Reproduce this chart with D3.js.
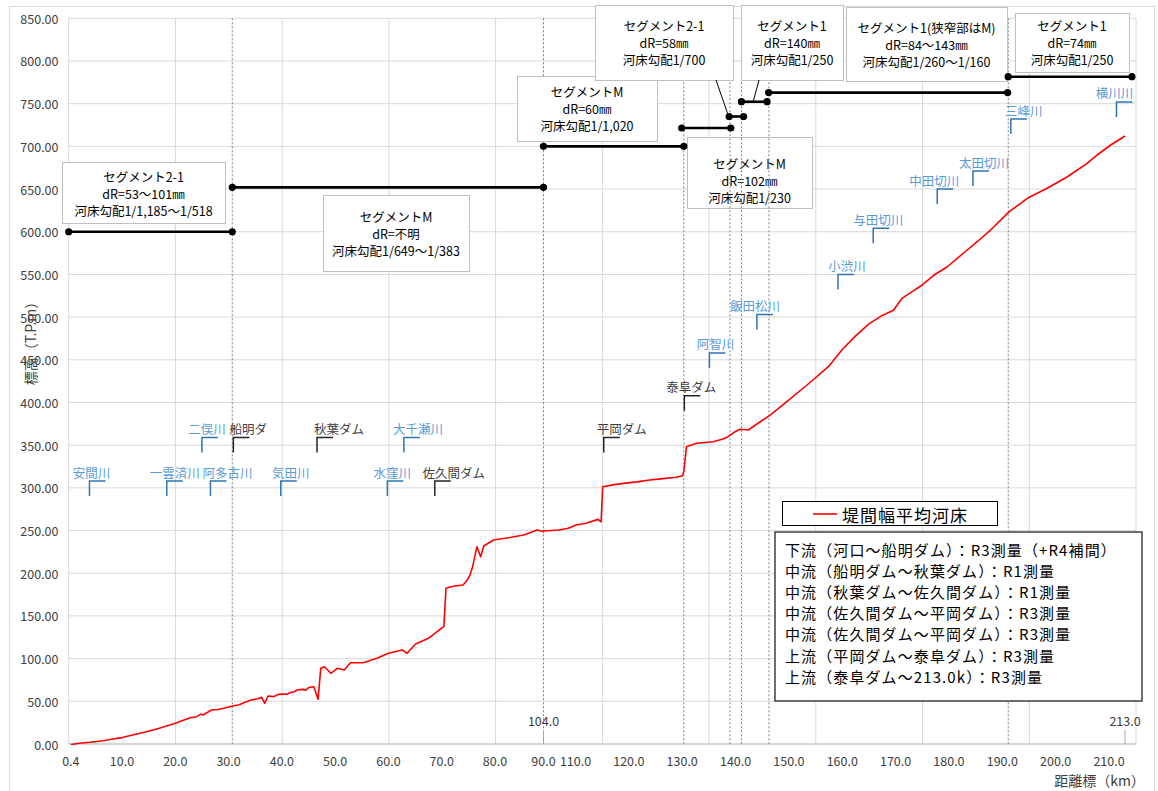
<!DOCTYPE html>
<html><head><meta charset="utf-8">
<script src="https://cdn.jsdelivr.net/npm/d3@7"></script>
<style>
html,body{margin:0;padding:0;background:#fff;}
svg{display:block;font-family:"Noto Sans CJK JP","Noto Sans",sans-serif;}
</style></head><body>
<svg id="chart" width="1158" height="791"></svg>
<script>
// ---------------- DATA ----------------
const yTicks = [0,50,100,150,200,250,300,350,400,450,500,550,600,650,700,750,800,850];
const xTickKm = [0.4,10,20,30,40,50,60,70,80,90,110,120,130,140,150,160,170,180,190,200,210];
const xTickLabels = ["0.4","10.0","20.0","30.0","40.0","50.0","60.0","70.0","80.0","90.0","110.0","120.0","130.0","140.0","150.0","160.0","170.0","180.0","190.0","200.0","210.0"];
const gridUnits = [0,20,40,60,80,100,120,140,160,180,200];

// 堤間幅平均河床 (km, elevation T.P.m)
const curveKm = [0.4,2,4,6.5,8,10,12,14.6,17,20,22.8,24,24.8,25.2,26.8,28,29.5,30.7,32,33,34.2,35.5,36.2,36.8,37.4,38.5,39.2,40.0,41.0,41.5,42.3,43.0,43.9,44.5,45.0,45.3,46.0,46.8,47.3,48.0,49.2,50.4,51.7,52.9,55.3,57.8,60.0,62.6,63.5,65.1,67.5,69.5,70.4,70.8,72.4,74.0,74.8,75.3,75.8,76.6,77.3,77.9,79.7,83.0,85.4,87.9,89.1,
  104.0,106.8,108.5,110.1,112.0,114.2,114.8,115.1,117.0,119.0,121.5,123.9,126.0,128.8,130.0,130.3,130.8,132.7,135.8,137.5,138.6,139.9,140.8,142.4,144.0,146.5,149.6,153.4,157.4,160.0,162.5,165.0,167.5,169.6,171.2,173.1,174.7,177.2,179.7,182.8,185.3,187.8,191.3,194.7,198.4,202.2,205.9,207.8,210.3,213.0];
const curveElev = [-0.5,0.8,2.0,3.9,5.5,7.5,10.5,14.4,18.5,24.2,30.8,32.0,35.0,34.0,39.8,40.5,42.5,44.5,46.0,48.5,51.5,53.0,54.7,47.7,56.2,55.5,57.8,58.6,58.2,60.0,61.3,63.5,64.0,63.0,66.0,66.5,67.1,52.3,88.7,90.5,82.8,88.7,86.7,95.2,95.2,100.4,106.2,110.1,106.2,117.1,123.8,133.5,137.4,182.4,185.1,186.2,192.1,197.9,207.7,231.1,219.4,231.9,238.9,242.1,244.8,250.6,248.6,
  249.5,250.6,252.5,256.5,258.5,263.1,260.3,301.4,303.5,305.3,307.0,309.2,310.5,312.4,314.0,318.9,348.2,352.2,354.1,357.0,360.0,365.8,368.6,367.8,374.8,385.3,400.9,420.5,441.9,462.0,478.0,492.0,502.0,508.0,522.0,529.8,536.4,549.3,559.0,575.4,588.3,602.0,623.5,639.2,650.9,664.4,680.1,689.9,701.6,712.1];

// Segment bars
const segFromKm = [0,30.7,104,129.9,138.8,141.1,146.2,191.1];
const segToKm   = [30.7,89.1,130.3,139.1,141.5,145.9,191.0,214.3];
const segElev   = [600,652,700,721.5,735,752.3,763,781.6];
// Segment boundaries (dotted)
const boundaryKm = [30.7,89.1,130.3,138.96,141.11,146.26,191.12];

// Segment text boxes
const segBoxText = [
  ["セグメント2-1","dR=53～101㎜","河床勾配1/1,185～1/518"],
  ["セグメントM","dR=不明","河床勾配1/649～1/383"],
  ["セグメントM","dR=60㎜","河床勾配1/1,020"],
  ["セグメント2-1","dR=58㎜","河床勾配1/700"],
  ["セグメント1","dR=140㎜","河床勾配1/250"],
  ["セグメントM","dR=102㎜","河床勾配1/230"],
  ["セグメント1(狭窄部はM)","dR=84～143㎜","河床勾配1/260～1/160"],
  ["セグメント1","dR=74㎜","河床勾配1/250"]
];

// Tributaries and dams
const placeNames = ["安間川","一雲済川","阿多古川","気田川","水窪川","佐久間ダム","二俣川","船明ダ","秋葉ダム","大千瀬川","平岡ダム","泰阜ダム","阿智川","飯田松川","小渋川","与田切川","中田切川","太田切川","三峰川","横川川"];
const placeKm   = [3.9,18.4,26.6,39.8,59.8,68.7,25.0,30.9,46.6,62.9,115.3,130.4,135.1,144.0,159.2,165.8,177.8,184.5,191.6,211.4];
const placeElev = [308,308,308,308,308,308,359,359,359,359,359,408,458,503,550,604,650,671,732,752];
const placeType = ["川","川","川","川","川","ダム","川","ダム","ダム","川","ダム","ダム","川","川","川","川","川","川","川","川"];

const markKm = [104.0,213.0];
const markLabels = ["104.0","213.0"];

const legendLabel = "堤間幅平均河床";
const noteLines = [
  "下流（河口～船明ダム）：R3測量（+R4補間）",
  "中流（船明ダム～秋葉ダム）：R1測量",
  "中流（秋葉ダム～佐久間ダム）：R1測量",
  "中流（佐久間ダム～平岡ダム）：R3測量",
  "中流（佐久間ダム～平岡ダム）：R3測量",
  "上流（平岡ダム～泰阜ダム）：R3測量",
  "上流（泰阜ダム～213.0k）：R3測量"
];
const yTitle = "標高（T.P.m）";
const xTitle = "距離標（km）";

// ---------------- LAYOUT ----------------
const L = 68.7, R = 1136, T = 18.3, B = 744;
const boxLayout = [ // x,y,w,h,textCenterY
  [62,162,163,61,193.5],
  [323,195,146,76,233],
  [517,76,140,65,108.5],
  [595,5,138,75,42.5],
  [741,5,102,75,42.5],
  [687,137,125,71,180],
  [846,7,161,74,44],
  [1015,13,114,59,42.5]
];
const labelDx = [2,8,17,10,5,19,5,15,22,14,18,7,6,-2,9,5,-3,11,13,-2];

const svg = d3.select("#chart");
const x = d3.scaleLinear().domain([0,89.1,104,215.06]).range([L,543.5,543.5,R]);
const xGrid = d3.scaleLinear().domain([0,200]).range([L,R]);
const y = d3.scaleLinear().domain([0,850]).range([B,T]);

// outer frame
svg.append("rect").attr("x",9.5).attr("y",6.5).attr("width",1145).attr("height",800)
  .attr("fill","#fff").attr("stroke","#d9d9d9");

// grid
svg.append("g").selectAll("line").data(yTicks).join("line")
  .attr("x1",L).attr("x2",R).attr("y1",d=>y(d)).attr("y2",d=>y(d))
  .attr("stroke","#d9d9d9").attr("stroke-width",1);
svg.append("g").selectAll("line").data(gridUnits).join("line")
  .attr("x1",d=>xGrid(d)).attr("x2",d=>xGrid(d)).attr("y1",T).attr("y2",B)
  .attr("stroke","#d9d9d9").attr("stroke-width",1);
svg.append("line").attr("x1",L).attr("x2",R).attr("y1",B).attr("y2",B).attr("stroke","#bfbfbf");

// y tick labels
svg.append("g").selectAll("text").data(yTicks).join("text")
  .attr("x",58.5).attr("y",d=>y(d)).attr("text-anchor","end").attr("dominant-baseline","central")
  .attr("font-size",12.5).attr("fill","#404040").text(d=>d3.format(".2f")(d));
// x tick labels
svg.append("g").selectAll("text").data(xTickKm).join("text")
  .attr("x",d=>x(d)).attr("y",760).attr("text-anchor","middle").attr("dominant-baseline","central")
  .attr("font-size",12.5).attr("fill","#404040").text((d,i)=>xTickLabels[i]);

// axis titles
svg.append("text").attr("transform","translate(30,340) rotate(-90)").attr("text-anchor","middle")
  .attr("dominant-baseline","central").attr("font-size",14).attr("fill","#404040").text(yTitle);
svg.append("text").attr("x",1145).attr("y",780).attr("text-anchor","end").attr("dominant-baseline","central")
  .attr("font-size",14).attr("fill","#404040").text(xTitle);

// boxes
function drawBox(i){
  const b = boxLayout[i];
  const g = svg.append("g");
  g.append("rect").attr("x",b[0]+0.5).attr("y",b[1]+0.5).attr("width",b[2]).attr("height",b[3])
    .attr("fill","#fff").attr("stroke","#bfbfbf");
  g.selectAll("text").data(segBoxText[i]).join("text")
    .attr("x",b[0]+b[2]/2).attr("y",(d,j)=>b[4]+(j-1)*17).attr("text-anchor","middle")
    .attr("dominant-baseline","central").attr("font-size",12.5).attr("fill","#000").text(d=>d);
}
drawBox(5);

// dotted boundaries
svg.append("g").selectAll("line").data(boundaryKm).join("line")
  .attr("x1",d=>x(d)).attr("x2",d=>x(d)).attr("y1",T).attr("y2",B)
  .attr("stroke","#7f7f7f").attr("stroke-width",1).attr("stroke-dasharray","2,2");

[0,1,2,3,4,6,7].forEach(drawBox);

// leader lines
svg.append("line").attr("x1",716).attr("y1",80).attr("x2",x(138.9)).attr("y2",y(735)+3).attr("stroke","#000");
svg.append("line").attr("x1",759).attr("y1",80).attr("x2",x(143.3)).attr("y2",y(752.3)).attr("stroke","#000");

// segment bars
const segG = svg.append("g");
segFromKm.forEach((f,i)=>{
  segG.append("line").attr("x1",x(f)).attr("x2",x(segToKm[i])).attr("y1",y(segElev[i])).attr("y2",y(segElev[i]))
    .attr("stroke","#000").attr("stroke-width",2.6);
  [f,segToKm[i]].forEach(k=>segG.append("circle").attr("cx",x(k)).attr("cy",y(segElev[i])).attr("r",3.6).attr("fill","#000"));
});

// place annotations
const pG = svg.append("g");
placeNames.forEach((n,i)=>{
  const px = x(placeKm[i]), py = y(placeElev[i]);
  const isDam = placeType[i]==="ダム";
  const mc = isDam ? "#262626" : "#2E75B6";
  const tc = isDam ? "#404040" : "#5B9BD5";
  pG.append("path").attr("d",`M${px},${py+15}V${py}H${px+16}`).attr("fill","none").attr("stroke",mc).attr("stroke-width",1.5);
  pG.append("text").attr("x",px+labelDx[i]).attr("y",py-9).attr("text-anchor","middle").attr("dominant-baseline","central")
    .attr("font-size",12.5).attr("fill",tc).text(n);
});

// km marks
markKm.forEach((k,i)=>{
  svg.append("line").attr("x1",x(k)).attr("x2",x(k)).attr("y1",730).attr("y2",B).attr("stroke","#a6a6a6");
  svg.append("text").attr("x",x(k)).attr("y",720).attr("text-anchor","middle").attr("dominant-baseline","central")
    .attr("font-size",12.5).attr("fill","#404040").text(markLabels[i]);
});

// curve
const line = d3.line().x(d=>x(d[0])).y(d=>y(d[1]));
svg.append("path").datum(curveKm.map((k,i)=>[k,curveElev[i]])).attr("d",line)
  .attr("fill","none").attr("stroke","#ff0000").attr("stroke-width",1.6).attr("stroke-linejoin","round");

// legend
svg.append("rect").attr("x",782.5).attr("y",501.5).attr("width",215).attr("height",24).attr("fill","#fff").attr("stroke","#000");
svg.append("line").attr("x1",813).attr("x2",837).attr("y1",514).attr("y2",514).attr("stroke","#ff0000").attr("stroke-width",1.6);
svg.append("text").attr("x",842).attr("y",514).attr("dominant-baseline","central").attr("font-size",17)
  .attr("letter-spacing",1).attr("fill","#000").text(legendLabel);

// notes
svg.append("rect").attr("x",775).attr("y",532).attr("width",367).attr("height",169).attr("fill","#fff")
  .attr("stroke","#404040").attr("stroke-width",1.5);
svg.append("g").selectAll("text").data(noteLines).join("text")
  .attr("x",785).attr("y",(d,i)=>549+i*21.2).attr("dominant-baseline","central").attr("font-size",15)
  .attr("letter-spacing",1.1).attr("fill","#000").text(d=>d);
</script>
</body></html>
